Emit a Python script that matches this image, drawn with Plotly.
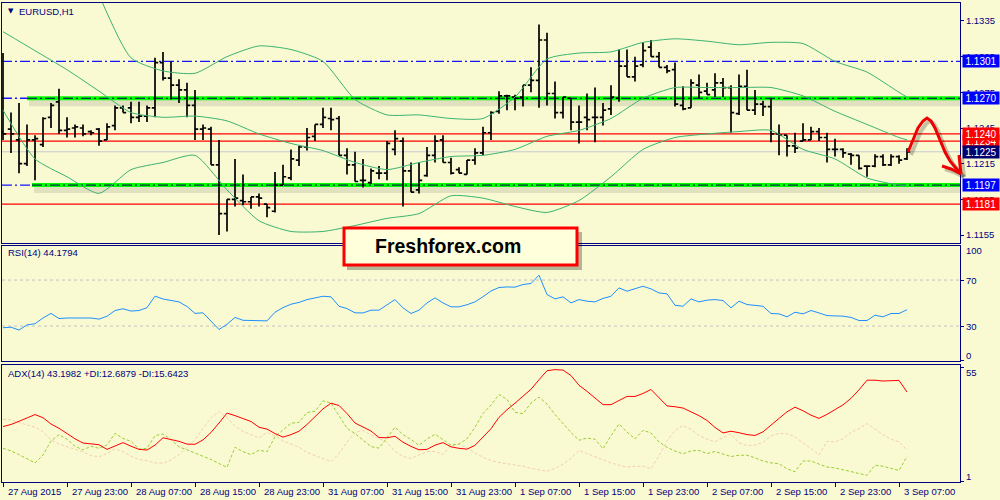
import plotly.graph_objects as go

W, H = 1000, 500

# ---------------- data (EURUSD H1) ----------------
bar_open = [1.1242,1.1244,1.1235,1.1215,1.1235,1.1231,1.1254,1.1267,1.1243,1.1245,
            1.1245,1.1242,1.1244,1.1235,1.1247,1.1262,1.1262,1.1254,1.1255,1.1262,
            1.1300,1.1287,1.1281,1.1277,1.1264,1.1244,1.1244,1.1214,1.1173,1.1185,
            1.1184,1.1183,1.1187,1.1181,1.1175,1.1197,1.1203,1.1218,1.1229,1.1238,
            1.1248,1.1253,1.1253,1.1222,1.1214,1.1201,1.1199,1.1207,1.1207,1.1227,
            1.1234,1.1209,1.1193,1.1205,1.1222,1.1235,1.1216,1.1210,1.1206,1.1218,
            1.1224,1.1241,1.1259,1.1272,1.1271,1.1271,1.1281,1.1285,1.1319,1.1274,
            1.1258,1.1270,1.1250,1.1254,1.1254,1.1254,1.1261,1.1270,1.1297,1.1288,
            1.1298,1.1313,1.1305,1.1296,1.1294,1.1264,1.1262,1.1281,1.1276,1.1277,
            1.1283,1.1279,1.1257,1.1280,1.1260,1.1265,1.1263,1.1240,1.1239,1.1230,
            1.1234,1.1235,1.1242,1.1237,1.1227,1.1227,1.1223,1.1222,1.1213,1.1213,
            1.1221,1.1214,1.1221,1.1219]
bar_high = [1.1308,1.1258,1.1266,1.1248,1.1239,1.1254,1.1266,1.1278,1.1254,1.1248,
            1.1248,1.1243,1.1245,1.1249,1.1264,1.1264,1.1267,1.1267,1.1264,1.1304,
            1.1309,1.1301,1.1286,1.1283,1.1277,1.1248,1.1246,1.1235,1.1185,1.1219,
            1.1206,1.1187,1.1190,1.1181,1.1208,1.1214,1.1227,1.1230,1.1245,1.1248,
            1.1262,1.1262,1.1255,1.1228,1.1225,1.1219,1.1211,1.1213,1.1234,1.1243,
            1.1237,1.1216,1.1216,1.1229,1.1239,1.1239,1.1220,1.1212,1.1218,1.1228,
            1.1246,1.1259,1.1276,1.1273,1.1273,1.1281,1.1296,1.1332,1.1325,1.1284,
            1.1271,1.1270,1.1264,1.1274,1.1279,1.1266,1.1281,1.1311,1.1311,1.1305,
            1.1317,1.1319,1.1309,1.1298,1.1300,1.1280,1.1286,1.1290,1.1283,1.1291,
            1.1287,1.1281,1.1290,1.1294,1.1277,1.1268,1.1270,1.1248,1.1239,1.1241,
            1.1249,1.1246,1.1245,1.1241,1.1236,1.1228,1.1224,1.1222,1.1213,1.1223,
            1.1223,1.1223,1.1222,1.1228]
bar_low = [1.1235,1.1224,1.1207,1.1213,1.1201,1.1229,1.1245,1.1240,1.1237,1.1237,
           1.1238,1.1239,1.1230,1.1235,1.1243,1.1258,1.1249,1.1250,1.1250,1.1254,
           1.1285,1.1269,1.1266,1.1254,1.1235,1.1235,1.1214,1.1155,1.1158,1.1179,
           1.1180,1.1177,1.1179,1.1170,1.1174,1.1197,1.1201,1.1213,1.1226,1.1234,
           1.1245,1.1243,1.1222,1.1206,1.1200,1.1195,1.1198,1.1202,1.1201,1.1222,
           1.1179,1.1191,1.1190,1.1204,1.1216,1.1216,1.1206,1.1207,1.1206,1.1214,
           1.1222,1.1235,1.1257,1.1260,1.1260,1.1263,1.1275,1.1262,1.1264,1.1253,
           1.1253,1.1243,1.1232,1.1243,1.1233,1.1247,1.1256,1.1267,1.1288,1.1284,
           1.1296,1.1305,1.1296,1.1291,1.1263,1.1260,1.1262,1.1270,1.1273,1.1271,
           1.1271,1.1241,1.1256,1.1260,1.1256,1.1255,1.1233,1.1222,1.1221,1.1224,
           1.1234,1.1235,1.1234,1.1216,1.1221,1.1220,1.1214,1.1210,1.1204,1.1212,
           1.1213,1.1213,1.1215,1.1218]
bar_close = [1.1240,1.1240,1.1215,1.1235,1.1236,1.1253,1.1264,1.1243,1.1244,1.1246,
             1.1240,1.1241,1.1234,1.1246,1.1262,1.1258,1.1254,1.1255,1.1262,1.1300,
             1.1287,1.1281,1.1277,1.1264,1.1244,1.1245,1.1214,1.1173,1.1185,1.1186,
             1.1183,1.1187,1.1186,1.1178,1.1197,1.1204,1.1219,1.1229,1.1237,1.1248,
             1.1254,1.1252,1.1222,1.1214,1.1200,1.1201,1.1209,1.1207,1.1232,1.1236,
             1.1209,1.1191,1.1201,1.1222,1.1234,1.1216,1.1207,1.1207,1.1218,1.1224,
             1.1241,1.1258,1.1272,1.1272,1.1270,1.1281,1.1285,1.1319,1.1274,1.1258,
             1.1271,1.1250,1.1250,1.1252,1.1254,1.1260,1.1271,1.1297,1.1288,1.1297,
             1.1310,1.1305,1.1296,1.1293,1.1265,1.1261,1.1283,1.1275,1.1273,1.1283,
             1.1279,1.1258,1.1280,1.1260,1.1265,1.1263,1.1240,1.1239,1.1230,1.1228,
             1.1235,1.1242,1.1237,1.1227,1.1227,1.1224,1.1222,1.1211,1.1213,1.1221,
             1.1214,1.1221,1.1218,1.1225]

time_label_idx = [0, 8, 16, 24, 32, 40, 48, 56, 64, 72, 80, 88, 96, 104, 112]
time_labels = ["27 Aug 2015", "27 Aug 23:00", "28 Aug 07:00", "28 Aug 15:00",
               "28 Aug 23:00", "31 Aug 07:00", "31 Aug 15:00", "31 Aug 23:00",
               "1 Sep 07:00", "1 Sep 15:00", "1 Sep 23:00", "2 Sep 07:00",
               "2 Sep 15:00", "2 Sep 23:00", "3 Sep 07:00"]

# Bollinger bands, read every 4 bars
band_idx = [0, 4, 8, 12, 16, 20, 24, 28, 32, 36, 40, 44, 48, 52, 56, 60, 64, 68,
            72, 76, 80, 84, 88, 92, 96, 100, 104, 108, 112, 113]
bb_middle = [1.1326, 1.1310, 1.1294, 1.1276, 1.1258, 1.1254, 1.1255, 1.1251, 1.1240,
             1.1232, 1.1226, 1.1216, 1.1210, 1.1216, 1.1221, 1.1222, 1.1227, 1.1238,
             1.1243, 1.1253, 1.1270, 1.1279, 1.1279, 1.1279, 1.1279, 1.1272, 1.1259,
             1.1248, 1.1237, 1.1235]
bb_lower = [1.1260, 1.1219, 1.1204, 1.1190, 1.1210, 1.1216, 1.1222, 1.1193, 1.1167,
            1.1158, 1.1158, 1.1163, 1.1169, 1.1173, 1.1188, 1.1186, 1.1179, 1.1174,
            1.1184, 1.1204, 1.1227, 1.1237, 1.1240, 1.1242, 1.1243, 1.1227, 1.1219,
            1.1203, 1.1197, 1.1197]
bb_upper_idx = band_idx[3:]
bb_upper = [1.1357, 1.1304, 1.1293, 1.1291, 1.1305, 1.1314, 1.1311, 1.1301, 1.1269,
            1.1256, 1.1256, 1.1253, 1.1253, 1.1271, 1.1303, 1.1308, 1.1309, 1.1317,
            1.1320, 1.1318, 1.1315, 1.1317, 1.1316, 1.1301, 1.1292, 1.1275, 1.1271]

rsi = [28.5, 29, 26.5, 31, 32, 37, 41, 36.5, 37, 37,
       37, 37, 36, 38.5, 43.5, 45, 43, 43.5, 46, 56,
       53.5, 52.3, 51, 47, 41, 41.5, 34, 27, 31.5, 37.5,
       35, 35, 35, 34.5, 42, 46, 49, 50.5, 53, 54.5,
       55.9, 55.4, 47.2, 45.2, 41.5, 41.4, 43.8, 43.8, 48.7, 53,
       45.8, 40.9, 43.8, 50.1, 54.5, 50.1, 46.7, 46.7, 48.5, 51,
       55.5, 60.5, 63.5, 64, 63.8, 66.1, 67, 74.2, 57.4, 53.6,
       55.4, 50.1, 53, 51.6, 51, 54, 55.9, 63.2, 60.3, 62.3,
       64.6, 62.3, 58.8, 58, 48.1, 47.2, 53.6, 51, 52.5, 53,
       52.2, 45.8, 51.6, 48.7, 48.1, 47.2, 40.9, 40.6, 38, 42,
       40.6, 43.5, 41.4, 39.1, 38.8, 38.6, 37.5, 34.8, 34.8, 39.4,
       38, 40.9, 40.9, 44.18]
adx = [26.8, 27.8, 29.3, 30.8, 32.5, 31, 28, 26, 23.5, 21,
       19, 18.6, 18.2, 16, 17.5, 19.2, 17.5, 16, 15.7, 18,
       21.5, 20.6, 19.8, 18.5, 18.4, 20.5, 24, 28.5, 33.2, 32,
       30.5, 29.2, 26.5, 25.6, 23.5, 21.8, 23, 24.6, 27.8, 31.4,
       35.2, 37.9, 36.8, 33, 28.5, 26.6, 24.7, 21.6, 21.5, 22.2,
       19.4, 17.4, 15.8, 16, 18, 19.2, 17.2, 16.5, 16.1, 17.9,
       21.8, 25.8, 31.2, 34.8, 37.9, 41, 44.5, 49, 53.3, 53.8,
       53.6, 51, 46.4, 43.5, 40.5, 37.2, 37.2, 39, 41.1, 41.1,
       42.5, 44.4, 40.5, 36.6, 36.2, 35.6, 33.8, 32, 29.7, 26.4,
       23.8, 24.6, 23.9, 23, 22.6, 24.3, 27.5, 30.5, 33.8, 36,
       34.3, 32.2, 30.7, 32.6, 34.8, 37.1, 40.2, 44.2, 48.8, 48.8,
       48.4, 48.6, 48.7, 43.2]
plus_di = [16.5, 15.3, 13.5, 11.5, 9.6, 13.3, 20, 23, 20.8, 17.5,
           15.7, 17.5, 16.5, 18.1, 23.6, 21.2, 19.8, 16.2, 16.5, 22.5,
           23.3, 20.6, 17.2, 15.8, 14.3, 12.8, 11.2, 9.3, 7.5, 17,
           14.9, 13.5, 15.6, 14.9, 22, 25.2, 28.4, 28.8, 33.5, 34,
           39, 38, 32, 26, 23.5, 20.5, 17.3, 16.6, 21.5, 26.5,
           23, 20.7, 17.9, 20.9, 23.2, 20.8, 18, 18.5, 21, 26.5,
           33, 37, 42, 39.7, 33.6, 32.9, 38, 40.8, 37.5, 32.5,
           28, 24, 20.3, 21.4, 20.8, 16.3, 22.5, 28, 24.2, 21,
           25, 23.8, 19.5, 17, 15.2, 13.9, 15.3, 15.5, 14, 15,
           13.8, 12.6, 13.2, 13.2, 12, 10.5, 9.6, 9.2, 6.8, 5.4,
           10.5, 10.5, 9, 7.6, 7.2, 6.4, 5.5, 4.6, 3.7, 8.5,
           8, 7, 6, 12.69]
minus_di = [30.2, 30, 28.7, 27.5, 26.5, 24.4, 20.4, 18.6, 17.4, 16,
            14.8, 13, 12.5, 14, 16.3, 14.9, 12.8, 11.2, 10.6, 9.6,
            9.4, 11, 13.5, 17, 20.5, 26, 31, 33.9, 31, 27,
            24.5, 23, 21.5, 24, 22.5, 20, 18.5, 17, 14.5, 13,
            11.5, 10.2, 14, 19.5, 24, 25, 22.8, 21, 19.4, 15,
            12.7, 11.7, 13.2, 15, 15, 13.5, 17.9, 18.4, 16.8, 14.2,
            12.3, 10.7, 9.8, 9.2, 8.6, 8, 7, 6.2, 5.6, 7,
            9, 11.8, 15.5, 14, 12.5, 10.8, 9.6, 8.5, 7.6, 8,
            8, 6.8, 13, 20, 25, 27.3, 25.5, 22.6, 20.8, 19.6,
            21.6, 23.4, 19, 17.8, 18, 19.3, 22.4, 23.6, 23.4, 22,
            19, 16.5, 13.4, 19.8, 19.5, 21, 24.1, 25.8, 28.2, 25.4,
            23, 20.8, 19.6, 15.64]

price_ticks = [1.1155, 1.1185, 1.1215, 1.1245, 1.1275, 1.1305, 1.1335]
blue_levels = [1.1301]
zone_levels = [1.1270, 1.1197]
red_levels = [1.1240, 1.1234, 1.1181]
bid_level = 1.1225
rsi_levels = [30, 70]
rsi_tick_labels = [100, 70, 30, 0]
adx_tick_labels = [55, 1]

symbol_text = "EURUSD,H1"
rsi_text = "RSI(14) 44.1794"
adx_text = "ADX(14) 43.1982 +DI:12.6879 -DI:15.6423"
brand_text = "Freshforex.com"

# ---------------- layout helpers ----------------
def fx(px):
    return px / W

def fy(py):
    return 1 - py / H

NAVY = "#000080"
BG = "#FAFAD2"
FONT = "Liberation Sans, Arial, sans-serif"
BAR_PX, X0_PX = 8.0, 3.0
X_LEFT_PX, X_RIGHT_PX = 2, 960
x_range = [(X_LEFT_PX - X0_PX) / BAR_PX, (X_RIGHT_PX - X0_PX) / BAR_PX]
PRICE_RANGE = [1.11483, 1.13501]
RSI_RANGE = [-0.4, 99.6]
ADX_RANGE = [0.53, 56.0]
MAIN_TOP, MAIN_BOT = 3, 243
RSI_TOP, RSI_BOT = 246, 361
ADX_TOP, ADX_BOT = 365, 482
px_per_price = (MAIN_BOT - MAIN_TOP) / (PRICE_RANGE[1] - PRICE_RANGE[0])


def ypx_rsi(v):
    return RSI_BOT - (v - RSI_RANGE[0]) * (RSI_BOT - RSI_TOP) / (RSI_RANGE[1] - RSI_RANGE[0])


def ypx_adx(v):
    return ADX_BOT - (v - ADX_RANGE[0]) * (ADX_BOT - ADX_TOP) / (ADX_RANGE[1] - ADX_RANGE[0])


bar_index = list(range(len(bar_close)))

fig = go.Figure()

fig.add_trace(go.Ohlc(
    x=bar_index, open=bar_open, high=bar_high, low=bar_low, close=bar_close,
    increasing=dict(line=dict(color="black", width=1.7)),
    decreasing=dict(line=dict(color="black", width=1.7)),
    tickwidth=0.4, xaxis="x", yaxis="y", hoverinfo="skip", showlegend=False))

band_style = dict(color="#3CB371", width=1, shape="spline", smoothing=0.6)
for bx, by in [(band_idx, bb_middle), (band_idx, bb_lower), (bb_upper_idx, bb_upper)]:
    fig.add_trace(go.Scatter(x=bx, y=by, mode="lines", line=band_style,
                             xaxis="x", yaxis="y", hoverinfo="skip", showlegend=False))

fig.add_trace(go.Scatter(x=bar_index, y=rsi, mode="lines",
                         line=dict(color="#1E90FF", width=1),
                         xaxis="x2", yaxis="y2", hoverinfo="skip", showlegend=False))

fig.add_trace(go.Scatter(x=bar_index, y=minus_di, mode="lines",
                         line=dict(color="#F4CFAE", width=1, dash="3px,2px"),
                         xaxis="x3", yaxis="y3", hoverinfo="skip", showlegend=False))
fig.add_trace(go.Scatter(x=bar_index, y=plus_di, mode="lines",
                         line=dict(color="#9ACD32", width=1, dash="3px,2px"),
                         xaxis="x3", yaxis="y3", hoverinfo="skip", showlegend=False))
fig.add_trace(go.Scatter(x=bar_index, y=adx, mode="lines",
                         line=dict(color="#FF0000", width=1),
                         xaxis="x3", yaxis="y3", hoverinfo="skip", showlegend=False))

# ---------------- shapes ----------------
shapes = []
xl, xr = fx(X_LEFT_PX), fx(X_RIGHT_PX)
zone_start_px = [27, 32]
dashdot = "10px,3px,2px,3px"

shapes.append(dict(type="line", xref="paper", yref="y", x0=xl, x1=xr, y0=bid_level, y1=bid_level,
                   line=dict(color="#C8C8D0", width=1), layer="below"))
for lv in red_levels:
    shapes.append(dict(type="line", xref="paper", yref="y", x0=xl, x1=xr, y0=lv, y1=lv,
                       line=dict(color="#FF0000", width=1.2), layer="below"))
for lv in blue_levels + zone_levels:
    shapes.append(dict(type="line", xref="paper", yref="y", x0=xl, x1=xr, y0=lv, y1=lv,
                       line=dict(color="#1414FF", width=1.4, dash=dashdot), layer="below"))
for lv, sp in zip(zone_levels, zone_start_px):
    off = 4 / px_per_price
    shapes.append(dict(type="line", xref="paper", yref="y", x0=fx(sp + 2), x1=xr,
                       y0=lv - off, y1=lv - off,
                       line=dict(color="rgba(80,80,80,0.14)", width=8), layer="below"))
    shapes.append(dict(type="line", xref="paper", yref="y", x0=fx(sp), x1=xr, y0=lv, y1=lv,
                       line=dict(color="#00FF00", width=4), layer="below"))
    shapes.append(dict(type="line", xref="paper", yref="y", x0=fx(sp), x1=xr, y0=lv, y1=lv,
                       line=dict(color="#000050", width=1, dash=dashdot), layer="below"))

for lv in rsi_levels:
    shapes.append(dict(type="line", xref="paper", yref="y2", x0=xl, x1=xr, y0=lv, y1=lv,
                       line=dict(color="#C0C0C0", width=1, dash="3px,3px"), layer="below"))

# brand box
shapes.append(dict(type="rect", xref="paper", yref="paper",
                   x0=fx(347), x1=fx(582), y0=fy(270), y1=fy(232),
                   fillcolor="rgba(0,0,0,0.28)", line=dict(width=0), layer="above"))
shapes.append(dict(type="rect", xref="paper", yref="paper",
                   x0=fx(344), x1=fx(577), y0=fy(265), y1=fy(228),
                   fillcolor="#FFFFDC", line=dict(color="#FF0000", width=3), layer="above"))


def px_path(pts, dx=0, dy=0):
    s = ""
    for k, (a, b) in enumerate(pts):
        s += ("M" if k == 0 else "L") + f"{fx(a + dx):.5f},{fy(b + dy):.5f} "
    return s.strip()


arrow_body = [(908, 152), (913, 140), (918, 128), (923, 121), (927, 118), (931, 121),
              (935, 128), (940, 140), (945, 152), (950, 161), (955, 167), (961, 174)]
arrow_head1 = [(942, 166), (951, 169), (961, 174)]
arrow_head2 = [(959, 155), (960, 165), (961, 174)]
for pts in (arrow_body, arrow_head1, arrow_head2):
    shapes.append(dict(type="path", xref="paper", yref="paper", path=px_path(pts, 3, 3),
                       line=dict(color="rgba(0,0,0,0.22)", width=4), layer="above"))
for pts in (arrow_body, arrow_head1, arrow_head2):
    shapes.append(dict(type="path", xref="paper", yref="paper", path=px_path(pts),
                       line=dict(color="#EE0000", width=3), layer="above"))

# ---------------- annotations ----------------
ann = []
small = dict(family=FONT, size=9.5, color=NAVY)
for idx, lab in zip(time_label_idx, time_labels):
    ann.append(dict(x=idx, xref="x3", y=fy(491), yref="paper", text=lab, showarrow=False,
                    xanchor="left", yanchor="middle", xshift=3, font=small))
for v in rsi_tick_labels:
    ypos = min(max(ypx_rsi(v), RSI_TOP + 4), RSI_BOT - 6)
    ann.append(dict(x=fx(964), y=fy(ypos), xref="paper", yref="paper", text=str(v),
                    showarrow=False, xanchor="left", yanchor="middle", font=small))
for v in adx_tick_labels:
    ypos = min(max(ypx_adx(v), ADX_TOP + 7), ADX_BOT - 6)
    ann.append(dict(x=fx(964), y=fy(ypos), xref="paper", yref="paper", text=str(v),
                    showarrow=False, xanchor="left", yanchor="middle", font=small))

ann.append(dict(x=fx(6), y=fy(11), xref="paper", yref="paper", text="▼", showarrow=False,
                xanchor="left", yanchor="middle", font=dict(family="DejaVu Sans", size=7, color=NAVY)))
ann.append(dict(x=fx(17), y=fy(11), xref="paper", yref="paper", text=symbol_text, showarrow=False,
                xanchor="left", yanchor="middle", font=small))
ann.append(dict(x=fx(6), y=fy(252), xref="paper", yref="paper", text=rsi_text, showarrow=False,
                xanchor="left", yanchor="middle", font=small))
ann.append(dict(x=fx(6), y=fy(373), xref="paper", yref="paper", text=adx_text, showarrow=False,
                xanchor="left", yanchor="middle", font=small))
ann.append(dict(x=fx(448), y=fy(246), xref="paper", yref="paper", text=f"<b>{brand_text}</b>",
                showarrow=False, xanchor="center", yanchor="middle",
                font=dict(family=FONT, size=19.5, color="black")))

price_boxes = [(blue_levels[0], "#0000FF"), (zone_levels[0], "#0000FF"),
               (red_levels[1], "#FF0000"), (red_levels[0], "#FF0000"),
               (bid_level, "#000070"), (zone_levels[1], "#0000FF"), (red_levels[2], "#FF0000")]
for v, col in price_boxes:
    ann.append(dict(x=fx(962), y=v, xref="paper", yref="y", text=f"{v:.4f}", showarrow=False,
                    xanchor="left", yanchor="middle", bgcolor=col, width=34, height=10,
                    borderpad=1, align="center",
                    font=dict(family=FONT, size=10, color="white")))

axis_common = dict(showline=True, mirror=True, linecolor=NAVY, linewidth=1,
                   showgrid=False, zeroline=False)

fig.update_layout(
    width=W, height=H, autosize=False,
    margin=dict(l=0, r=0, t=0, b=0),
    paper_bgcolor=BG, plot_bgcolor=BG,
    showlegend=False,
    font=dict(family=FONT, size=9.5, color=NAVY),
    xaxis=dict(domain=[xl, xr], range=x_range, anchor="y", showticklabels=False, ticks="",
               rangeslider=dict(visible=False), **axis_common),
    xaxis2=dict(domain=[xl, xr], range=x_range, anchor="y2", matches="x",
                showticklabels=False, ticks="", **axis_common),
    xaxis3=dict(domain=[xl, xr], range=x_range, anchor="y3", matches="x",
                showticklabels=False, ticks="outside", ticklen=4, tickcolor=NAVY,
                tickvals=time_label_idx, **axis_common),
    yaxis=dict(domain=[fy(MAIN_BOT), fy(MAIN_TOP)], range=PRICE_RANGE, anchor="x", side="right",
               tickvals=price_ticks, ticktext=[f"{v:.4f}" for v in price_ticks],
               ticks="outside", ticklen=3, tickcolor=NAVY,
               tickfont=dict(family=FONT, size=9.5, color=NAVY), **axis_common),
    yaxis2=dict(domain=[fy(RSI_BOT), fy(RSI_TOP)], range=RSI_RANGE, anchor="x2", side="right",
                tickvals=rsi_tick_labels, showticklabels=False, ticks="outside", ticklen=3,
                tickcolor=NAVY, **axis_common),
    yaxis3=dict(domain=[fy(ADX_BOT), fy(ADX_TOP)], range=ADX_RANGE, anchor="x3", side="right",
                tickvals=adx_tick_labels, showticklabels=False, ticks="outside", ticklen=3,
                tickcolor=NAVY, **axis_common),
    shapes=shapes,
    annotations=ann,
)

fig.write_html(
    "out.html",
    config={"displayModeBar": False},
    post_script="document.body.style.margin='0';document.body.style.padding='0';"
                "document.body.style.overflow='hidden';"
                "document.documentElement.style.background='" + BG + "';",
)
